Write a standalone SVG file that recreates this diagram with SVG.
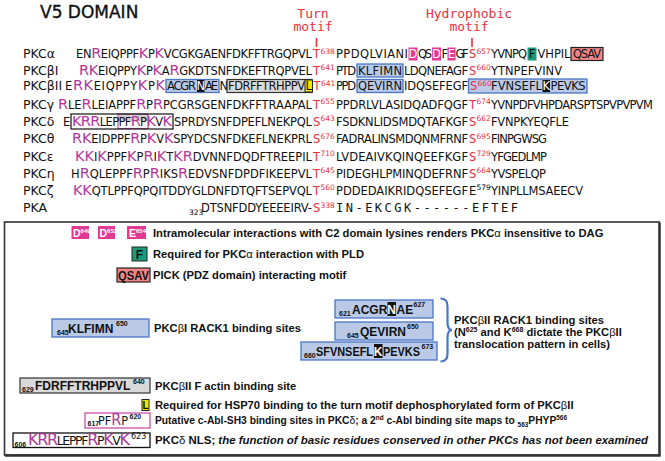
<svg xmlns="http://www.w3.org/2000/svg" width="665" height="461" viewBox="0 0 665 461">
<style>
.t{font-family:"DejaVu Sans",sans-serif;font-size:17px;fill:#111;stroke:#111;stroke-width:0.35}
.mo{font-family:"DejaVu Sans Mono",monospace;font-size:13px;fill:#e8303e}
.lb{font-family:"DejaVu Sans",sans-serif;font-size:12.5px;fill:#111}
.s{font-family:"DejaVu Sans",sans-serif;font-size:11.5px;fill:#111}
.mono{font-family:"DejaVu Sans Mono",monospace;font-size:12px;fill:#111}
.m{fill:#b0369c;font-size:14.5px}
.r{fill:#e8303e}
.sp{font-family:"DejaVu Sans",sans-serif;font-size:7.5px}
.lg{font-family:"Liberation Sans",Arial,sans-serif;font-weight:bold;font-size:11.2px;fill:#111}
.n{font-weight:normal}
.bx{font-family:"Liberation Sans",Arial,sans-serif;font-weight:bold;font-size:12px;fill:#111}
.blue{fill:#b9c9e6;stroke:#4a76c5;stroke-width:1.3}
.gray{fill:#d9d9d9;stroke:#333;stroke-width:1.2}
.pk{fill:#e23a92}
.blk{fill:#111}
.w{fill:#fff}
</style>
<rect width="665" height="461" fill="#fff"/>
<g id="title"><text class="t" x="40" y="18">V5 DOMAIN</text></g>
<g id="motif-labels">
<text class="mo" x="313" y="17.5" text-anchor="middle">Turn</text>
<text class="mo" x="313" y="31" text-anchor="middle">motif</text>
<text class="mo" x="469" y="17.5" text-anchor="middle">Hydrophobic</text>
<text class="mo" x="469" y="31" text-anchor="middle">motif</text>
</g>
<g id="connectors" stroke="#e8303e" stroke-width="1.6">
<line x1="316.5" y1="38" x2="316.5" y2="47"/>
<line x1="472" y1="38" x2="472" y2="47"/>
</g>

<g id="row-alpha">
<text class="lb" x="23" y="58">PKCα</text>
<text class="s" x="76" y="58" textLength="236" lengthAdjust="spacing">EN<tspan class="m">R</tspan>EIQPPF<tspan class="m">K</tspan>P<tspan class="m">K</tspan>VCGKGAENFDKFFTRGQPVL</text>
<text class="s r" x="313" y="58">T</text><text class="sp r" x="320.5" y="53.5">638</text>
<text class="s" x="336" y="58" textLength="72" lengthAdjust="spacing">PPDQLVIANI</text>
<rect class="pk" x="408.5" y="47.5" width="9" height="13"/><text class="s w" x="413" y="58" text-anchor="middle">D</text>
<text class="s" x="418" y="58" textLength="14" lengthAdjust="spacing">QS</text>
<rect class="pk" x="432" y="47.5" width="9" height="13"/><text class="s w" x="436.5" y="58" text-anchor="middle">D</text>
<text class="s" x="441.5" y="58">F</text>
<rect class="pk" x="447.5" y="47.5" width="8" height="13"/><text class="s w" x="451.5" y="58" text-anchor="middle">E</text>
<text class="s" x="455.5" y="58" textLength="13" lengthAdjust="spacing">GF</text>
<text class="s r" x="469" y="58">S</text><text class="sp r" x="476.5" y="53.5">657</text>
<text class="s" x="491" y="58" textLength="36" lengthAdjust="spacing">YVNPQ</text>
<rect x="527.5" y="47.5" width="9" height="13" fill="#1a9a78"/><text class="s" x="532" y="58" text-anchor="middle">F</text>
<text class="s" x="537.5" y="58" textLength="33" lengthAdjust="spacing">VHPIL</text>
<rect x="571" y="47.5" width="32" height="13" fill="#f08585" stroke="#222" stroke-width="1.2"/>
<text class="s" x="573" y="58" textLength="28" lengthAdjust="spacing">QSAV</text>
</g>

<g id="row-betaI">
<text class="lb" x="23" y="74.5">PKCβI</text>
<text class="s" x="79" y="74.5" textLength="233" lengthAdjust="spacing"><tspan class="m">R</tspan><tspan class="m">K</tspan>EIQPPY<tspan class="m">K</tspan>P<tspan class="m">K</tspan>A<tspan class="m">R</tspan>GKDTSNFDKEFTRQPVEL</text>
<text class="s r" x="313" y="74.5">T</text><text class="sp r" x="320.5" y="70">641</text>
<text class="s" x="336" y="74.5" textLength="20" lengthAdjust="spacing">PTD</text>
<rect class="blue" x="357" y="64" width="46" height="13"/>
<text class="s" x="358" y="74.5" textLength="44" lengthAdjust="spacing">KLFIMN</text>
<text class="s" x="404" y="74.5" textLength="64" lengthAdjust="spacing">LDQNEFAGF</text>
<text class="s r" x="469" y="74.5">S</text><text class="sp r" x="476.5" y="70">660</text>
<text class="s" x="491" y="74.5" textLength="71" lengthAdjust="spacing">YTNPEFVINV</text>
</g>

<g id="row-betaII">
<text class="lb" x="23" y="90">PKCβII</text>
<text class="s" x="65" y="90" textLength="100" lengthAdjust="spacing">E<tspan class="m">R</tspan><tspan class="m">K</tspan>EIQPPY<tspan class="m">K</tspan>P<tspan class="m">K</tspan></text>
<rect class="blue" x="166" y="79.5" width="53" height="13"/>
<text class="s" x="167" y="90" textLength="29" lengthAdjust="spacing">ACGR</text>
<rect class="blk" x="197" y="80" width="7.5" height="12"/><text class="s w" x="200.7" y="90" text-anchor="middle">N</text>
<text class="s" x="205" y="90" textLength="13" lengthAdjust="spacing">AE</text>
<text class="s" x="219.5" y="90">N</text>
<rect class="gray" x="227" y="79.5" width="85" height="13"/>
<text class="s" x="228" y="90" textLength="77" lengthAdjust="spacing">FDRFFTRHPPV</text>
<rect x="305" y="80" width="7.5" height="12" fill="#f5e600" stroke="#222" stroke-width="1"/><text class="s" x="308.8" y="90" text-anchor="middle">L</text>
<text class="s r" x="313.5" y="90">T</text><text class="sp r" x="321" y="85.5">641</text>
<text class="s" x="336" y="90" textLength="20" lengthAdjust="spacing">PPD</text>
<rect class="blue" x="357" y="79.5" width="46" height="13"/>
<text class="s" x="358" y="90" textLength="44" lengthAdjust="spacing">QEVIRN</text>
<text class="s" x="404" y="90" textLength="64" lengthAdjust="spacing">IDQSEFEGF</text>
<rect class="blue" x="468.5" y="79" width="118.5" height="14"/>
<text class="s r" x="470" y="90">S</text><text class="sp r" x="477.5" y="85.5">660</text>
<text class="s" x="491" y="90" textLength="51" lengthAdjust="spacing">FVNSEFL</text>
<rect class="blk" x="542.5" y="80" width="7.5" height="12"/><text class="s w" x="546.2" y="90" text-anchor="middle">K</text>
<text class="s" x="550.5" y="90" textLength="35" lengthAdjust="spacing">PEVKS</text>
</g>

<g id="row-gamma">
<text class="lb" x="23" y="108.5">PKCγ</text>
<text class="s" x="58" y="108.5" textLength="254" lengthAdjust="spacing"><tspan class="m">R</tspan>LE<tspan class="m">R</tspan>LEIAPPF<tspan class="m">R</tspan>P<tspan class="m">R</tspan>PCGRSGENFDKFFTRAAPAL</text>
<text class="s r" x="313" y="108.5">T</text><text class="sp r" x="320.5" y="104">655</text>
<text class="s" x="336" y="108.5" textLength="132" lengthAdjust="spacing">PPDRLVLASIDQADFQGF</text>
<text class="s r" x="469" y="108.5">T</text><text class="sp r" x="476.5" y="104">674</text>
<text class="s" x="491" y="108.5" textLength="162" lengthAdjust="spacing">YVNPDFVHPDARSPTSPVPVPVM</text>
</g>

<g id="row-delta">
<text class="lb" x="23" y="125.5">PKCδ</text>
<rect x="118" y="114" width="30" height="7" fill="#cfcfcf"/>
<rect x="118" y="114" width="30" height="14.5" fill="none" stroke="#c45aa8" stroke-width="1.2"/>
<rect x="71" y="114" width="102" height="15" fill="none" stroke="#111" stroke-width="1.2"/>
<text class="s" x="63" y="125.5">E</text>
<text class="s" x="72" y="125.5" textLength="100" lengthAdjust="spacing"><tspan class="m">K</tspan><tspan class="m">R</tspan><tspan class="m">R</tspan>LEPPF<tspan class="m">R</tspan>P<tspan class="m">K</tspan>V<tspan class="m">K</tspan></text>
<text class="s" x="174" y="125.5" textLength="138" lengthAdjust="spacing">SPRDYSNFDPEFLNEKPQL</text>
<text class="s r" x="313" y="125.5">S</text><text class="sp r" x="320.5" y="121">643</text>
<text class="s" x="336" y="125.5" textLength="132" lengthAdjust="spacing">FSDKNLIDSMDQTAFKGF</text>
<text class="s r" x="469" y="125.5">S</text><text class="sp r" x="476.5" y="121">662</text>
<text class="s" x="491" y="125.5" textLength="78" lengthAdjust="spacing">FVNPKYEQFLE</text>
</g>

<g id="row-theta">
<text class="lb" x="23" y="143">PKCθ</text>
<text class="s" x="72" y="143" textLength="240" lengthAdjust="spacing"><tspan class="m">R</tspan><tspan class="m">K</tspan>EIDPPF<tspan class="m">R</tspan>P<tspan class="m">K</tspan>V<tspan class="m">K</tspan>SPYDCSNFDKEFLNEKPRL</text>
<text class="s r" x="313" y="143">S</text><text class="sp r" x="320.5" y="138.5">676</text>
<text class="s" x="336" y="143" textLength="132" lengthAdjust="spacing">FADRALINSMDQNMFRNF</text>
<text class="s r" x="469" y="143">S</text><text class="sp r" x="476.5" y="138.5">695</text>
<text class="s" x="491" y="143" textLength="56" lengthAdjust="spacing">FINPGWSG</text>
</g>

<g id="row-epsilon">
<text class="lb" x="23" y="160.5">PKCε</text>
<text class="s" x="75" y="160.5" textLength="237" lengthAdjust="spacing"><tspan class="m">K</tspan><tspan class="m">K</tspan>I<tspan class="m">K</tspan>PPF<tspan class="m">K</tspan>P<tspan class="m">R</tspan>I<tspan class="m">K</tspan>T<tspan class="m">K</tspan><tspan class="m">R</tspan>DVNNFDQDFTREEPIL</text>
<text class="s r" x="313" y="160.5">T</text><text class="sp r" x="320.5" y="156">710</text>
<text class="s" x="336" y="160.5" textLength="132" lengthAdjust="spacing">LVDEAIVKQINQEEFKGF</text>
<text class="s r" x="469" y="160.5">S</text><text class="sp r" x="476.5" y="156">729</text>
<text class="s" x="491" y="160.5" textLength="56" lengthAdjust="spacing">YFGEDLMP</text>
</g>

<g id="row-eta">
<text class="lb" x="23" y="177.5">PKCη</text>
<text class="s" x="71" y="177.5" textLength="241" lengthAdjust="spacing">H<tspan class="m">R</tspan>QLEPPF<tspan class="m">R</tspan>P<tspan class="m">R</tspan>IKS<tspan class="m">R</tspan>EDVSNFDPDFIKEEPVL</text>
<text class="s r" x="313" y="177.5">T</text><text class="sp r" x="320.5" y="173">645</text>
<text class="s" x="336" y="177.5" textLength="132" lengthAdjust="spacing">PIDEGHLPMINQDEFRNF</text>
<text class="s r" x="469" y="177.5">S</text><text class="sp r" x="476.5" y="173">664</text>
<text class="s" x="491" y="177.5" textLength="55" lengthAdjust="spacing">YVSPELQP</text>
</g>

<g id="row-zeta">
<text class="lb" x="23" y="194.5">PKCζ</text>
<text class="s" x="73" y="194.5" textLength="239" lengthAdjust="spacing"><tspan class="m">K</tspan><tspan class="m">K</tspan>QTLPPFQPQITDDYGLDNFDTQFTSEPVQL</text>
<text class="s r" x="313" y="194.5">T</text><text class="sp r" x="320.5" y="190">560</text>
<text class="s" x="336" y="194.5" textLength="132" lengthAdjust="spacing">PDDEDAIKRIDQSEFEGF</text>
<text class="s" x="469" y="194.5">E</text><text class="sp" x="476.5" y="190">579</text>
<text class="s" x="491" y="194.5" textLength="92" lengthAdjust="spacing">YINPLLMSAEECV</text>
</g>

<g id="row-pka">
<text class="lb" x="23" y="212">PKA</text>
<text class="sp" x="189" y="215">323</text>
<text class="s" x="201" y="212" textLength="111" lengthAdjust="spacing">DTSNFDDYEEEEIRV-</text>
<text class="s r" x="313" y="212">S</text><text class="sp r" x="320.5" y="207.5">338</text>
<text class="mono" x="336" y="212" textLength="182" lengthAdjust="spacing">IN-EKCGK------EFTEF</text>
</g>

<g id="legend">
<rect x="4.5" y="222" width="655" height="233" fill="none" stroke="#333" stroke-width="1.6"/>
<path d="M659.5 223 V455.5 H5" fill="none" stroke="#333" stroke-width="2.4"/>

<g id="leg-acidic">
<rect class="pk" x="71.5" y="226" width="17.5" height="13"/>
<text class="bx w" x="73" y="236.5" style="font-size:10.5px">D<tspan dy="-4" style="font-size:6px">649</tspan></text>
<rect class="pk" x="98" y="226" width="17" height="13"/>
<text class="bx w" x="99.5" y="236.5" style="font-size:10.5px">D<tspan dy="-4" style="font-size:6px">652</tspan></text>
<rect class="pk" x="127" y="226" width="19" height="13"/>
<text class="bx w" x="129" y="236.5" style="font-size:10.5px">E<tspan dy="-4" style="font-size:6px">654</tspan></text>
<text class="lg" x="153" y="236.5">Intramolecular interactions with C2 domain lysines renders PKC<tspan class="n">α</tspan> insensitive to DAG</text>
</g>

<g id="leg-F">
<rect x="132" y="247" width="15" height="14" fill="#1a9a78" stroke="#222" stroke-width="1"/>
<text class="bx" x="139.5" y="258.5" text-anchor="middle">F</text>
<text class="lg" x="153" y="258">Required for PKC<tspan class="n">α</tspan> interaction with PLD</text>
</g>

<g id="leg-QSAV">
<rect x="117" y="268" width="33" height="14" fill="#f08585" stroke="#222" stroke-width="1.2"/>
<text class="bx" x="118" y="279.5" textLength="31" lengthAdjust="spacingAndGlyphs">QSAV</text>
<text class="lg" x="153" y="279">PICK (PDZ domain) interacting motif</text>
</g>

<g id="leg-betaI-rack">
<rect class="blue" x="52" y="319" width="97" height="18"/>
<text class="bx" x="57" y="335" style="font-size:7px">645</text>
<text class="bx" x="68" y="332.5">KLFIMN</text>
<text class="bx" x="116" y="326" style="font-size:7px">650</text>
<text class="lg" x="154" y="332">PKC<tspan class="n">β</tspan>I RACK1 binding sites</text>
</g>

<g id="leg-betaII-rack">
<rect class="blue" x="335" y="300" width="98" height="18"/>
<text class="bx" x="339" y="316" style="font-size:7px">621</text>
<text class="bx" x="352" y="313.5">ACGR</text>
<rect class="blk" x="387.5" y="302" width="8.5" height="14"/>
<text class="bx w" x="391.7" y="313.5" text-anchor="middle">N</text>
<text class="bx" x="396.5" y="313.5">AE</text>
<text class="bx" x="413.5" y="307" style="font-size:7px">627</text>
<rect class="blue" x="335" y="322" width="98" height="18"/>
<text class="bx" x="347" y="338" style="font-size:7px">645</text>
<text class="bx" x="360" y="335.5">QEVIRN</text>
<text class="bx" x="407" y="329" style="font-size:7px">650</text>
<rect class="blue" x="301" y="342" width="136" height="18"/>
<text class="bx" x="304" y="358" style="font-size:7px">660</text>
<text class="bx" x="316" y="355.5" textLength="57" lengthAdjust="spacingAndGlyphs">SFVNSEFL</text>
<rect class="blk" x="374" y="344" width="8.5" height="14"/>
<text class="bx w" x="378.2" y="355.5" text-anchor="middle">K</text>
<text class="bx" x="383" y="355.5" textLength="37" lengthAdjust="spacingAndGlyphs">PEVKS</text>
<text class="bx" x="421.5" y="349" style="font-size:7px">673</text>
<path d="M440.5 298.5 Q447.5 298.5 447.5 306 V322 Q447.5 330 452 330 Q447.5 330 447.5 338 V354 Q447.5 361.5 440.5 361.5" fill="none" stroke="#4a76c5" stroke-width="2.2"/>
<text class="lg" x="454" y="324">PKC<tspan class="n">β</tspan>II RACK1 binding sites</text>
<text class="lg" x="454" y="336">(N<tspan dy="-4" style="font-size:7px">625</tspan><tspan dy="4"> and K</tspan><tspan dy="-4" style="font-size:7px">668</tspan><tspan dy="4"> dictate the PKC</tspan><tspan class="n">β</tspan>II</text>
<text class="lg" x="454" y="348">translocation pattern in cells)</text>
</g>

<g id="leg-actin">
<rect class="gray" x="20" y="378" width="130" height="15"/>
<text class="bx" x="22" y="392" style="font-size:7px">629</text>
<text class="bx" x="35" y="390">FDRFFTRHPPVL</text>
<text class="bx" x="133" y="384" style="font-size:7px">640</text>
<text class="lg" x="155" y="390">PKC<tspan class="n">β</tspan>II F actin binding site</text>
</g>

<g id="leg-hsp70">
<rect x="142" y="399.5" width="7" height="11" fill="#f5e600" stroke="#222" stroke-width="1"/>
<text class="bx" x="145.5" y="409" text-anchor="middle" style="font-size:10px">L</text>
<text class="lg" x="155" y="409">Required for HSP70 binding to the turn motif dephosphorylated form of PKC<tspan class="n">β</tspan>II</text>
</g>

<g id="leg-abl">
<rect x="85" y="413" width="65" height="15" fill="#fff" stroke="#cc4fa8" stroke-width="1.3"/>
<text class="bx" x="87.5" y="426" style="font-size:7px">617</text>
<text class="s" x="98" y="424.5" style="font-size:12.5px" textLength="30" lengthAdjust="spacingAndGlyphs">PF<tspan class="m" style="font-size:16px">R</tspan>P</text>
<text class="bx" x="129.5" y="418.5" style="font-size:7px">620</text>
<text class="lg" x="155" y="424" textLength="412" lengthAdjust="spacingAndGlyphs">Putative c-Abl-SH3 binding sites in PKC<tspan class="n">δ</tspan>; a 2<tspan dy="-4" style="font-size:7px">nd</tspan><tspan dy="4"> c-Abl binding site maps to </tspan><tspan dy="3" style="font-size:7px">563</tspan><tspan dy="-3">PHYP</tspan><tspan dy="-4" style="font-size:7px">566</tspan></text>
</g>

<g id="leg-nls">
<rect x="13" y="433" width="137" height="14.5" fill="#fff" stroke="#111" stroke-width="1.3"/>
<text class="bx" x="14.5" y="447" style="font-size:7px">606</text>
<text class="s" x="28" y="445" style="font-size:12.5px" textLength="102" lengthAdjust="spacing"><tspan class="m" style="font-size:16px">K</tspan><tspan class="m" style="font-size:16px">R</tspan><tspan class="m" style="font-size:16px">R</tspan>LEPPF<tspan class="m" style="font-size:16px">R</tspan>P<tspan class="m" style="font-size:16px">K</tspan>V<tspan class="m" style="font-size:16px">K</tspan></text>
<text class="s" x="131" y="439" style="font-size:8px">623</text>
<text class="lg" x="155" y="444" textLength="493" lengthAdjust="spacingAndGlyphs">PKC<tspan class="n">δ</tspan> NLS; <tspan style="font-style:italic">the function of basic residues conserved in other PKCs has not been examined</tspan></text>
</g>
</g>
</svg>
